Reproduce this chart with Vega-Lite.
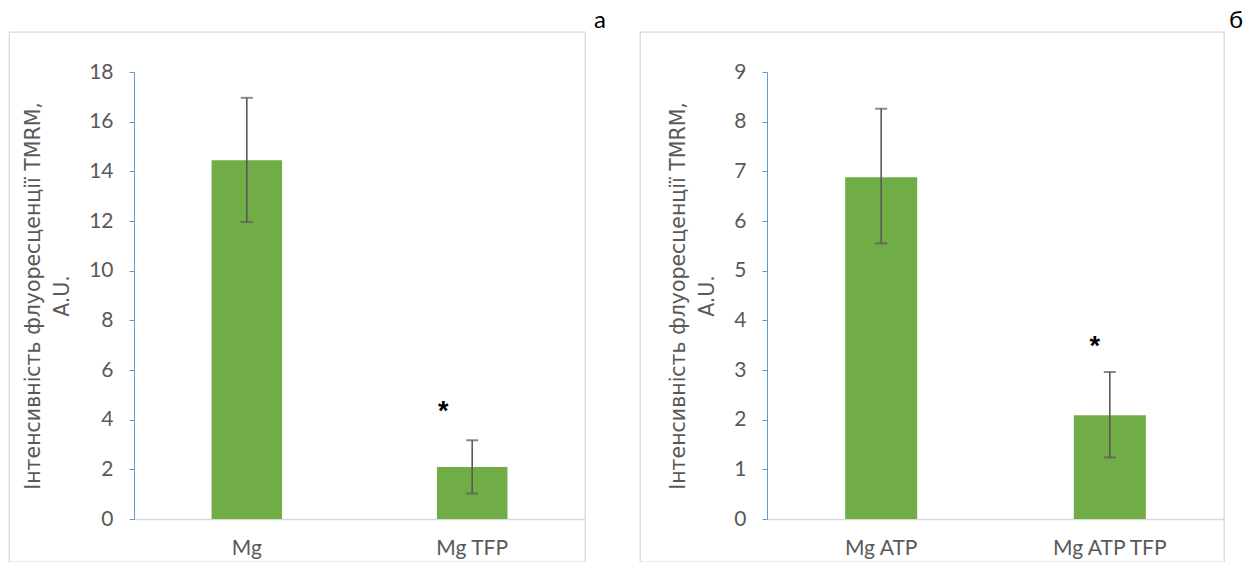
{
  "$schema": "https://vega.github.io/schema/vega-lite/v6.json",
  "padding": {"left": 8, "top": 8, "right": 0, "bottom": 0},
  "bounds": "flush",
  "spacing": 55,
  "config": {
    "view": {"stroke": "#d9d9d9", "strokeWidth": 1.3},
    "font": "Lato",
    "axis": {"labelFont": "Lato"}
  },
  "datasets": {
    "a": [
      {"group": "Mg", "mean": 14.45, "lo": 11.96, "hi": 16.96},
      {"group": "Mg TFP", "mean": 2.09, "lo": 1.03, "hi": 3.17}
    ],
    "starA": [{"group": "Mg TFP", "pos": 4.3, "mark": "*"}],
    "b": [
      {"group": "Mg ATP", "mean": 6.88, "lo": 5.55, "hi": 8.26},
      {"group": "Mg ATP TFP", "mean": 2.09, "lo": 1.24, "hi": 2.96}
    ],
    "starB": [{"group": "Mg ATP TFP", "pos": 3.46, "mark": "*"}]
  },
  "hconcat": [
    {
      "width": 576,
      "height": 530,
      "title": {"text": "а", "anchor": "end", "dx": 21, "offset": -20, "fontSize": 24, "fontWeight": "normal", "color": "#000000", "font": "Lato", "baseline": "alphabetic"},
      "data": {"name": "a"},
      "encoding": {
        "x": {
          "field": "group", "type": "nominal", "sort": null,
          "scale": {"range": [125, 576], "paddingInner": 0.687, "paddingOuter": 0.344},
          "axis": {"title": null, "labelAngle": 0, "domainColor": "#d9d9d9", "domainWidth": 1.3, "ticks": false, "labelFontSize": 21, "labelColor": "#595959", "labelPadding": 18, "offset": -43}
        }
      },
      "layer": [
        {
          "mark": {"type": "bar", "color": "#70AD47"},
          "encoding": {
            "y": {
              "field": "mean", "type": "quantitative",
              "title": ["Інтенсивність флуоресценції TMRM,", "A.U."],
              "scale": {"domain": [0, 18], "range": [487, 40], "nice": false},
              "axis": {"values": [0, 2, 4, 6, 8, 10, 12, 14, 16, 18], "format": "d", "offset": -125, "grid": false, "domainColor": "#5B9BD5", "tickColor": "#5B9BD5", "tickSize": 5, "labelFontSize": 21, "labelColor": "#595959", "labelPadding": 16, "titleFont": "DejaVu Sans", "titleFontSize": 20.5, "titleFontWeight": "normal", "titleColor": "#595959", "titlePadding": 16, "titleLineHeight": 29}
            }
          }
        },
        {
          "mark": {"type": "rule", "color": "#595959", "strokeWidth": 1.6},
          "encoding": {
            "y": {"field": "lo", "type": "quantitative", "title": ["Інтенсивність флуоресценції TMRM,", "A.U."]},
            "y2": {"field": "hi"}
          }
        },
        {
          "mark": {"type": "tick", "color": "#595959", "size": 12, "thickness": 2},
          "encoding": {"y": {"field": "lo", "type": "quantitative", "title": ["Інтенсивність флуоресценції TMRM,", "A.U."]}}
        },
        {
          "mark": {"type": "tick", "color": "#595959", "size": 12, "thickness": 2},
          "encoding": {"y": {"field": "hi", "type": "quantitative", "title": ["Інтенсивність флуоресценції TMRM,", "A.U."]}}
        },
        {
          "data": {"name": "starA"},
          "mark": {"type": "text", "font": "Liberation Sans", "fontSize": 27, "fontWeight": "bold", "color": "#000000", "dx": -29, "baseline": "middle"},
          "encoding": {
            "y": {"field": "pos", "type": "quantitative", "title": ["Інтенсивність флуоресценції TMRM,", "A.U."]},
            "text": {"field": "mark"}
          }
        }
      ]
    },
    {
      "width": 584,
      "height": 530,
      "title": {"text": "б", "anchor": "end", "dx": 19, "offset": -20, "fontSize": 24, "fontWeight": "normal", "color": "#000000", "font": "Lato", "baseline": "alphabetic"},
      "data": {"name": "b"},
      "encoding": {
        "x": {
          "field": "group", "type": "nominal", "sort": null,
          "scale": {"range": [127, 584], "paddingInner": 0.685, "paddingOuter": 0.342},
          "axis": {"title": null, "labelAngle": 0, "domainColor": "#d9d9d9", "domainWidth": 1.3, "ticks": false, "labelFontSize": 21, "labelColor": "#595959", "labelPadding": 18, "offset": -43}
        }
      },
      "layer": [
        {
          "mark": {"type": "bar", "color": "#70AD47"},
          "encoding": {
            "y": {
              "field": "mean", "type": "quantitative",
              "title": ["Інтенсивність флуоресценції TMRM,", "A.U."],
              "scale": {"domain": [0, 9], "range": [487, 40], "nice": false},
              "axis": {"values": [0, 1, 2, 3, 4, 5, 6, 7, 8, 9], "format": "d", "offset": -127, "grid": false, "domainColor": "#5B9BD5", "tickColor": "#5B9BD5", "tickSize": 5, "labelFontSize": 21, "labelColor": "#595959", "labelPadding": 16, "titleFont": "DejaVu Sans", "titleFontSize": 20.5, "titleFontWeight": "normal", "titleColor": "#595959", "titlePadding": 16, "titleLineHeight": 29}
            }
          }
        },
        {
          "mark": {"type": "rule", "color": "#595959", "strokeWidth": 1.6},
          "encoding": {
            "y": {"field": "lo", "type": "quantitative", "title": ["Інтенсивність флуоресценції TMRM,", "A.U."]},
            "y2": {"field": "hi"}
          }
        },
        {
          "mark": {"type": "tick", "color": "#595959", "size": 12, "thickness": 2},
          "encoding": {"y": {"field": "lo", "type": "quantitative", "title": ["Інтенсивність флуоресценції TMRM,", "A.U."]}}
        },
        {
          "mark": {"type": "tick", "color": "#595959", "size": 12, "thickness": 2},
          "encoding": {"y": {"field": "hi", "type": "quantitative", "title": ["Інтенсивність флуоресценції TMRM,", "A.U."]}}
        },
        {
          "data": {"name": "starB"},
          "mark": {"type": "text", "font": "Liberation Sans", "fontSize": 27, "fontWeight": "bold", "color": "#000000", "dx": -15, "baseline": "middle"},
          "encoding": {
            "y": {"field": "pos", "type": "quantitative", "title": ["Інтенсивність флуоресценції TMRM,", "A.U."]},
            "text": {"field": "mark"}
          }
        }
      ]
    }
  ]
}
